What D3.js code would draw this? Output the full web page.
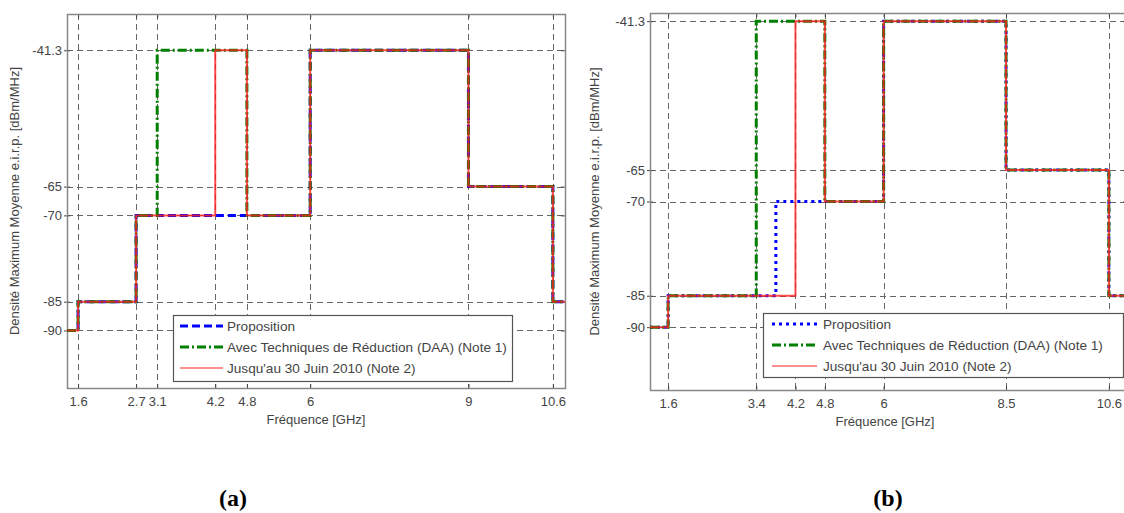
<!DOCTYPE html>
<html><head><meta charset="utf-8">
<script src="https://d3js.org/d3.v7.min.js"></script>
<style>body{margin:0;background:#fff}svg{display:block}</style>
</head><body>
<script>
// ---------- data ----------
const yTicks = [-90, -85, -70, -65, -41.3];
const seriesNames = ["Proposition", "Avec Techniques de Réduction (DAA) (Note 1)", "Jusqu'au 30 Juin 2010 (Note 2)"];

// (a)
const aDomainX = [1.39, 10.83];
const aTicksX = [1.6, 2.7, 3.1, 4.2, 4.8, 6, 9, 10.6];
const aPropFreq = [1.39, 1.6, 2.7, 6, 9, 10.6, 10.83];
const aPropLvl  = [-90, -85, -70, -41.3, -65, -85, -85];
const aDaaFreq  = [1.39, 1.6, 2.7, 3.1, 4.8, 6, 9, 10.6, 10.83];
const aDaaLvl   = [-90, -85, -70, -41.3, -70, -41.3, -65, -85, -85];
const aJusFreq  = [1.39, 1.6, 2.7, 4.2, 4.8, 6, 9, 10.6, 10.83];
const aJusLvl   = [-90, -85, -70, -41.3, -70, -41.3, -65, -85, -85];

// (b)
const bDomainX = [1.23, 10.97];
const bTicksX = [1.6, 3.4, 4.2, 4.8, 6, 8.5, 10.6];
const bPropFreq = [1.23, 1.6, 3.8, 6, 8.5, 10.6, 10.97];
const bPropLvl  = [-90, -85, -70, -41.3, -65, -85, -85];
const bDaaFreq  = [1.23, 1.6, 3.4, 4.8, 6, 8.5, 10.6, 10.97];
const bDaaLvl   = [-90, -85, -41.3, -70, -41.3, -65, -85, -85];
const bJusFreq  = [1.23, 1.6, 4.2, 4.8, 6, 8.5, 10.6, 10.97];
const bJusLvl   = [-90, -85, -41.3, -70, -41.3, -65, -85, -85];

// ---------- drawing ----------
const FONT = "'Liberation Sans', Arial, sans-serif";
const svg = d3.select("body").append("svg").attr("width", 1124).attr("height", 513)
  .style("font-family", FONT);
svg.append("rect").attr("width", 1124).attr("height", 513).attr("fill", "#fff");

function panel(cfg) {
  const x = d3.scaleLinear().domain(cfg.domainX).range([cfg.x0, cfg.x1]);
  const y = d3.scaleLinear().domain(cfg.domainY).range([cfg.y1, cfg.y0]);
  const g = svg.append("g");
  const clipId = "clip" + cfg.id;
  svg.append("clipPath").attr("id", clipId).append("rect")
    .attr("x", cfg.x0).attr("y", cfg.y0).attr("width", cfg.x1 - cfg.x0).attr("height", cfg.y1 - cfg.y0);

  // grid
  const grid = g.append("g").attr("stroke", "#666").attr("stroke-width", 1).attr("stroke-dasharray", "6,4");
  grid.selectAll("line.gx").data(cfg.ticksX).join("line")
    .attr("x1", d => Math.round(x(d)) + 0.5).attr("x2", d => Math.round(x(d)) + 0.5)
    .attr("y1", cfg.y0).attr("y2", cfg.y1);
  grid.selectAll("line.gy").data(yTicks).join("line")
    .attr("y1", d => Math.round(y(d)) + 0.5).attr("y2", d => Math.round(y(d)) + 0.5)
    .attr("x1", cfg.x0).attr("x2", cfg.x1);

  // axes via d3.axis
  const fmt = d => String(d);
  const ax = g.append("g").attr("transform", `translate(0,${cfg.y1})`)
    .call(d3.axisBottom(x).tickValues(cfg.ticksX).tickFormat(fmt).tickSizeInner(-4).tickSizeOuter(0).tickPadding(9));
  const axTop = g.append("g").attr("transform", `translate(0,${cfg.y0})`)
    .call(d3.axisTop(x).tickValues(cfg.ticksX).tickFormat("").tickSizeInner(-4).tickSizeOuter(0));
  const ay = g.append("g").attr("transform", `translate(${cfg.x0},0)`)
    .call(d3.axisLeft(y).tickValues(yTicks).tickFormat(fmt).tickSize(3).tickSizeOuter(0).tickPadding(2));
  const ayR = g.append("g").attr("transform", `translate(${cfg.x1},0)`)
    .call(d3.axisRight(y).tickValues(yTicks).tickFormat("").tickSizeInner(-4).tickSizeOuter(0));
  [ax, axTop, ay, ayR].forEach(a => {
    a.select(".domain").remove();
    a.selectAll("line").attr("stroke", "#444");
    a.selectAll("text").attr("fill", "#444").style("font-size", "13px").style("font-family", FONT);
  });
  ay.selectAll(".tick line").attr("x2", 3).attr("x1", -3);

  // box
  g.append("rect").attr("x", cfg.x0 + 0.5).attr("y", cfg.y0 + 0.5)
    .attr("width", cfg.x1 - cfg.x0).attr("height", cfg.y1 - cfg.y0)
    .attr("fill", "none").attr("stroke", "#888").attr("stroke-width", 1.5);

  // lines
  const line = d3.line().x(d => x(d[0])).y(d => y(d[1])).curve(d3.curveStepAfter);
  const lg = g.append("g").attr("clip-path", `url(#${clipId})`).attr("fill", "none");
  const styles = cfg.styles;
  cfg.series.forEach((s, i) => {
    const pts = d3.zip(s.f, s.l);
    lg.append("path").attr("d", line(pts))
      .attr("stroke", styles[i].color).attr("stroke-width", styles[i].w)
      .attr("stroke-dasharray", styles[i].dash).attr("stroke-opacity", styles[i].op || 1)
      .attr("stroke-linecap", styles[i].cap || "butt");
  });

  // labels
  svg.append("text").attr("x", (cfg.x0 + Math.min(cfg.x1, 1124)) / 2 + cfg.xlabDx).attr("y", cfg.y1 + 36)
    .attr("text-anchor", "middle").attr("fill", "#444").style("font-size", "13px").text("Fréquence [GHz]");
  svg.append("text").attr("transform", `translate(${cfg.ylabX},${(cfg.y0 + cfg.y1) / 2}) rotate(-90)`)
    .attr("text-anchor", "middle").attr("fill", "#444").style("font-size", "13px")
    .text("Densité Maximum Moyenne e.i.r.p. [dBm/MHz]");

  // legend
  const L = cfg.legend;
  const leg = svg.append("g");
  leg.append("rect").attr("x", L.x + 0.5).attr("y", L.y + 0.5).attr("width", L.w).attr("height", L.h)
    .attr("fill", "#fff").attr("stroke", "#555").attr("stroke-width", 1.2);
  seriesNames.forEach((n, i) => {
    const yy = L.y + L.r0 + i * L.dr;
    leg.append("line").attr("x1", L.sx0).attr("x2", L.sx1).attr("y1", yy).attr("y2", yy)
      .attr("stroke", styles[i].color).attr("stroke-width", styles[i].w)
      .attr("stroke-dasharray", styles[i].dash).attr("stroke-opacity", styles[i].legOp || styles[i].op || 1)
      .attr("stroke-linecap", styles[i].cap || "butt");
    leg.append("text").attr("x", L.tx).attr("y", yy + 5).attr("fill", "#444")
      .style("font-size", "13.6px").text(n);
  });

  // panel label
  svg.append("text").attr("x", cfg.tagX).attr("y", 506).attr("text-anchor", "middle")
    .style("font-family", "'Liberation Serif', 'Times New Roman', serif").style("font-weight", "bold")
    .style("font-size", "24px").attr("fill", "#000").text(cfg.tag);
}

panel({
  id: "a", domainX: aDomainX, domainY: [-100, -35], ticksX: aTicksX,
  x0: 67, x1: 565, y0: 14, y1: 388, ylabX: 19, xlabDx: 0, tag: "(a)", tagX: 233,
  series: [{f: aPropFreq, l: aPropLvl}, {f: aDaaFreq, l: aDaaLvl}, {f: aJusFreq, l: aJusLvl}],
  styles: [
    {color: "#0000ff", w: 3, dash: "8,4"},
    {color: "#007f00", w: 3, dash: "9,3,2,3"},
    {color: "#ff2020", w: 2, dash: null, op: 0.8, legOp: 0.5}
  ],
  legend: {x: 173, y: 315, w: 339, h: 66, r0: 11, dr: 21, sx0: 180, sx1: 223, tx: 227}
});

panel({
  id: "b", domainX: bDomainX, domainY: [-100, -40], ticksX: bTicksX,
  x0: 650, x1: 1127, y0: 13, y1: 390, ylabX: 599, xlabDx: -2, tag: "(b)", tagX: 888,
  series: [{f: bPropFreq, l: bPropLvl}, {f: bDaaFreq, l: bDaaLvl}, {f: bJusFreq, l: bJusLvl}],
  styles: [
    {color: "#0000ff", w: 3, dash: "3,4"},
    {color: "#007f00", w: 3, dash: "9,3,2,3"},
    {color: "#ff2020", w: 2, dash: null, op: 0.8, legOp: 0.5}
  ],
  legend: {x: 763, y: 313, w: 360, h: 64, r0: 11, dr: 21, sx0: 772, sx1: 817, tx: 823}
});
</script>
</body></html>
